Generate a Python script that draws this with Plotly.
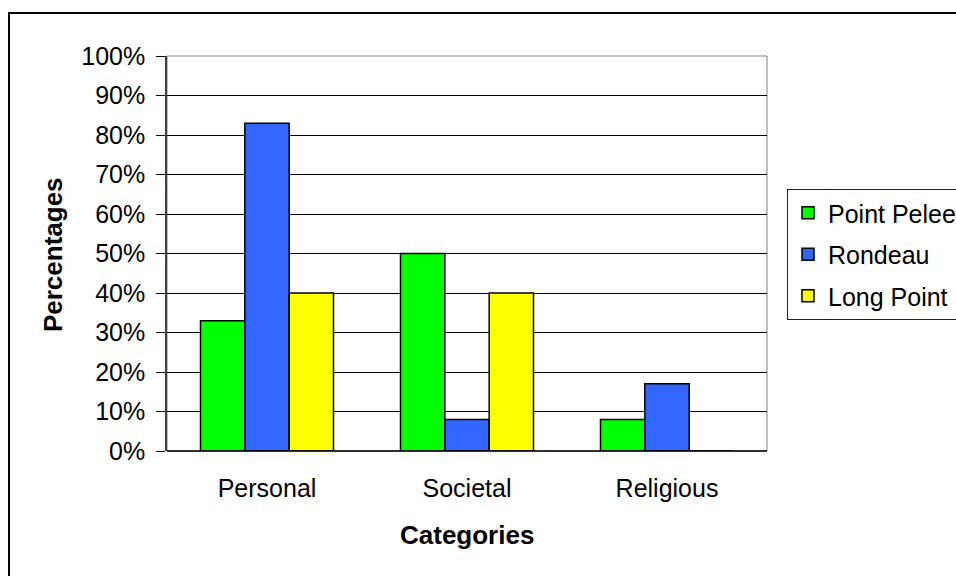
import plotly.graph_objects as go

# Survey results by value category for each park
categories = ["Personal", "Societal", "Religious"]
point_pelee = [33, 50, 8]
rondeau = [83, 8, 17]
long_point = [40, 40, 0]

series_names = ["Point Pelee", "Rondeau", "Long Point"]
series_colors = ["#00FF00", "#3366FF", "#FFFF00"]

y_ticks = list(range(0, 101, 10))
y_tick_text = [f"{v}%" for v in y_ticks]

FONT = "Liberation Sans, Arial, sans-serif"
TXT = 25
TITLE = 26

fig = go.Figure()
for name, vals, color in zip(series_names, [point_pelee, rondeau, long_point], series_colors):
    fig.add_trace(go.Bar(
        x=categories, y=vals, name=name, legendgroup=name,
        marker=dict(color=color, line=dict(color="#000000", width=1.5)),
    ))

# plot area in pixels: x 167..767, y 56..451
W, H = 956, 576
L, R, T, B = 167, 767, 56, 451
pw, ph = R - L, B - T

def px_x(x):
    return (x - L) / pw

def px_y(y):
    return (B - y) / ph

fig.update_layout(
    width=W, height=H,
    margin=dict(l=L, r=W - R, t=T, b=H - B, autoexpand=False),
    paper_bgcolor="white", plot_bgcolor="white",
    barmode="group", bargap=0.335, bargroupgap=0,
    font=dict(family=FONT, size=TXT, color="#000000"),
    showlegend=True,
    legend=dict(
        x=px_x(787), y=px_y(189), xanchor="left", yanchor="top",
        bordercolor="#202020", borderwidth=1, bgcolor="white",
        font=dict(family=FONT, size=TXT, color="#000000"),
        traceorder="grouped", tracegroupgap=6,
        itemclick=False,
    ),
    xaxis=dict(
        showgrid=False, zeroline=False, showline=False,
        ticks="", ticklabelstandoff=20,
        tickfont=dict(family=FONT, size=TXT, color="#000000"),
    ),
    yaxis=dict(
        range=[0, 100], tickvals=y_ticks, ticktext=y_tick_text,
        showgrid=True, gridcolor="#000000", gridwidth=1,
        zeroline=False, showline=True, linecolor="#404040", linewidth=1.5,
        ticks="outside", ticklen=9, tickcolor="#000000", tickwidth=1,
        ticklabelstandoff=6,
        tickfont=dict(family=FONT, size=TXT, color="#000000"),
    ),
    shapes=[
        # plot-area frame
        dict(type="rect", xref="paper", yref="paper", x0=0, x1=1, y0=0, y1=1,
             line=dict(color="#808080", width=1), layer="below"),
        # baseline
        dict(type="line", xref="paper", yref="paper", x0=0, x1=1, y0=0, y1=0,
             line=dict(color="#000000", width=1.5)),
        # outer chart frame
        dict(type="rect", xref="paper", yref="paper",
             x0=px_x(9), x1=px_x(970), y0=px_y(590), y1=px_y(13),
             line=dict(color="#000000", width=2)),
    ],
    annotations=[
        dict(text="<b>Categories</b>", xref="paper", yref="paper",
             x=0.5, y=px_y(535), xanchor="center", yanchor="middle",
             showarrow=False, font=dict(family=FONT, size=TITLE, color="#000000")),
        dict(text="<b>Percentages</b>", xref="paper", yref="paper",
             x=px_x(53), y=0.496, xanchor="center", yanchor="middle",
             textangle=-90, showarrow=False,
             font=dict(family=FONT, size=TITLE, color="#000000")),
    ],
)

fig.write_html("out.html")
